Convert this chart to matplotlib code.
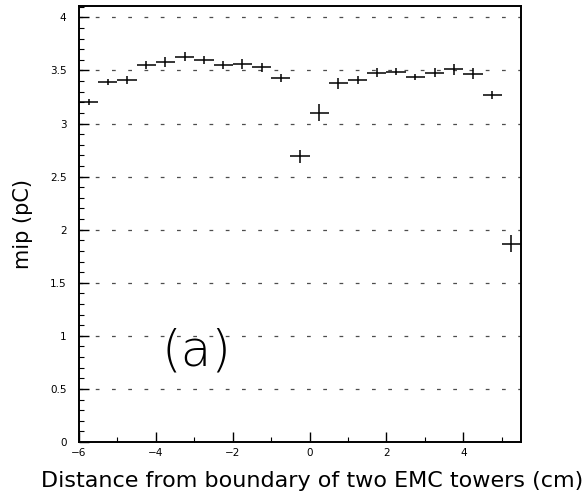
import matplotlib
matplotlib.use("Agg")
import matplotlib.pyplot as plt
from matplotlib.ticker import MultipleLocator, FixedLocator
import numpy as np

# Data
x_centers = [-5.75, -5.25, -4.75, -4.25, -3.75, -3.25, -2.75, -2.25, -1.75, -1.25,
             -0.75, -0.25, 0.25, 0.75, 1.25, 1.75, 2.25, 2.75, 3.25, 3.75, 4.25, 4.75, 5.25]
mip_values = [3.20, 3.39, 3.41, 3.55, 3.58, 3.63, 3.60, 3.55, 3.56, 3.53,
              3.43, 2.69, 3.10, 3.38, 3.41, 3.48, 3.49, 3.44, 3.48, 3.51, 3.47, 3.27, 1.87]
y_errors = [0.03, 0.03, 0.04, 0.04, 0.05, 0.04, 0.04, 0.04, 0.05, 0.04,
            0.04, 0.06, 0.08, 0.05, 0.04, 0.04, 0.03, 0.03, 0.04, 0.05, 0.05, 0.04, 0.08]
x_half_width = 0.25
y_ticks = [0, 0.5, 1, 1.5, 2, 2.5, 3, 3.5, 4]
y_tick_labels = ["0", "0.5", "1", "1.5", "2", "2.5", "3", "3.5", "4"]
x_ticks = [-6, -4, -2, 0, 2, 4]
x_tick_labels = ["\u22126", "\u22124", "\u22122", "0", "2", "4"]

fig = plt.figure(figsize=(5.87, 4.95), dpi=100)
ax = fig.add_axes([0.1346, 0.107, 0.8876 - 0.1346, 0.9885 - 0.107])

ax.set_xlim(-6, 5.5)
ax.set_ylim(0, 4.11)

# broken dotted grid lines
for yv in y_ticks[1:]:
    ax.axhline(yv, color="0.3", lw=0.9, linestyle=(0, (3, 10)), zorder=1)

ax.errorbar(x_centers, mip_values, xerr=x_half_width, yerr=y_errors,
            fmt="none", ecolor="black", elinewidth=1.1, capsize=0, zorder=3)

ax.yaxis.set_major_locator(FixedLocator(y_ticks))
ax.set_yticklabels(y_tick_labels)
ax.yaxis.set_minor_locator(MultipleLocator(0.1))
ax.xaxis.set_major_locator(FixedLocator(x_ticks))
ax.set_xticklabels(x_tick_labels)
ax.xaxis.set_minor_locator(MultipleLocator(1))

ax.tick_params(axis="both", which="major", direction="in", length=7, width=1.0,
               labelsize=7.5, colors="black")
ax.tick_params(axis="both", which="minor", direction="in", length=3.5, width=0.8)
ax.tick_params(axis="y", which="both", pad=9)
ax.tick_params(axis="x", which="both", pad=4)

for s in ax.spines.values():
    s.set_linewidth(1.4)
    s.set_color("black")

ax.set_xlabel("Distance from boundary of two EMC towers (cm)", fontsize=16,
              family="DejaVu Sans", labelpad=5)
ax.xaxis.set_label_coords(0.528, -0.066)
ax.set_ylabel("mip (pC)", fontsize=15, family="DejaVu Sans", labelpad=12)

ax.text(-2.95, 0.85, "(a)", fontsize=36, ha="center", va="center",
        family="DejaVu Sans", fontweight="light")

fig.savefig("out.png", dpi=100)
